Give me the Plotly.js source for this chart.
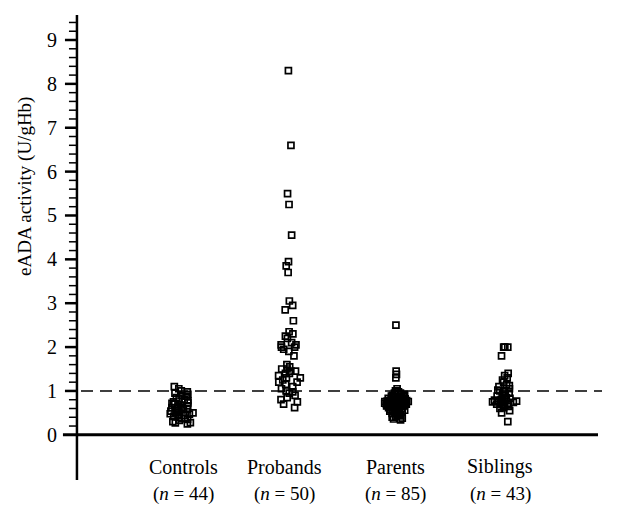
<!DOCTYPE html>
<html>
<head>
<meta charset="utf-8">
<script src="https://cdn.plot.ly/plotly-3.0.1.min.js"></script>
<style>html,body{margin:0;padding:0;background:#fff;}#chart{width:621px;height:506px;}</style>
</head>
<body>
<div id="chart"></div>
<script>
var categories = ["Controls", "Probands", "Parents", "Siblings"];
var groupSizes = ["44", "50", "85", "43"];

var controls = [1.1, 1.05, 1.0, 0.98, 0.95, 0.92, 0.9, 0.88, 0.85, 0.82,
  0.8, 0.78, 0.75, 0.73, 0.72, 0.7, 0.68, 0.66, 0.65, 0.63,
  0.62, 0.6, 0.6, 0.58, 0.57, 0.55, 0.54, 0.52, 0.5, 0.5,
  0.48, 0.47, 0.45, 0.44, 0.42, 0.4, 0.38, 0.37, 0.35, 0.33,
  0.3, 0.28, 0.27, 0.25];

var probands = [8.3, 6.6, 5.5, 5.25, 4.55, 3.95, 3.85, 3.7, 3.05, 2.95,
  2.85, 2.6, 2.35, 2.3, 2.25, 2.2, 2.1, 2.05, 2.05, 2.0,
  2.0, 1.95, 1.9, 1.8, 1.6, 1.55, 1.5, 1.5, 1.45, 1.45,
  1.4, 1.4, 1.35, 1.3, 1.3, 1.25, 1.2, 1.2, 1.15, 1.1,
  1.05, 1.0, 0.98, 0.95, 0.9, 0.85, 0.8, 0.75, 0.7, 0.62];

var parents = [2.5, 1.45, 1.38, 1.3, 1.05, 1.0, 1.0, 0.98, 0.95, 0.95,
  0.92, 0.9, 0.9, 0.88, 0.87, 0.86, 0.85, 0.85, 0.84, 0.83,
  0.82, 0.82, 0.81, 0.8, 0.8, 0.8, 0.79, 0.78, 0.78, 0.77,
  0.77, 0.76, 0.76, 0.75, 0.75, 0.75, 0.74, 0.74, 0.73, 0.73,
  0.72, 0.72, 0.72, 0.71, 0.71, 0.7, 0.7, 0.7, 0.69, 0.69,
  0.68, 0.68, 0.67, 0.67, 0.66, 0.66, 0.65, 0.65, 0.64, 0.64,
  0.63, 0.62, 0.62, 0.61, 0.6, 0.6, 0.59, 0.58, 0.57, 0.56,
  0.55, 0.54, 0.53, 0.52, 0.5, 0.49, 0.48, 0.46, 0.45, 0.43,
  0.42, 0.4, 0.38, 0.36, 0.34];

var siblings = [2.0, 2.0, 2.0, 1.8, 1.4, 1.35, 1.3, 1.25, 1.2, 1.15,
  1.12, 1.1, 1.05, 1.02, 1.0, 0.98, 0.95, 0.93, 0.9, 0.88,
  0.86, 0.85, 0.83, 0.82, 0.8, 0.79, 0.78, 0.77, 0.76, 0.75,
  0.74, 0.73, 0.72, 0.7, 0.69, 0.68, 0.66, 0.65, 0.62, 0.6,
  0.55, 0.5, 0.3];

var cutoff = 1.0;
var yTickLabels = ["0", "1", "2", "3", "4", "5", "6", "7", "8", "9"];
var yTitle = "eADA activity (U/gHb)";

var series = [controls, probands, parents, siblings];
var serif = "Liberation Serif, Times New Roman, serif";

// axis geometry
var xRange = [-1.318, 3.862];
var yRange = [-1.03, 9.57];
var plotLeft = 40, plotRight = 598;
var pxPerUnit = (plotRight - plotLeft) / (xRange[1] - xRange[0]);
var spineX = -0.975;
function xPaper(px) { return (px - plotLeft) / (plotRight - plotLeft); }
function yPaper(v) { return (v - yRange[0]) / (yRange[1] - yRange[0]); }

var traces = series.map(function (vals, i) {
  return {
    type: "box",
    x: vals.map(function () { return i; }),
    y: vals,
    boxpoints: "all",
    jitter: 1,
    pointpos: 0,
    width: 0.24,
    fillcolor: "rgba(0,0,0,0)",
    line: { color: "rgba(0,0,0,0)", width: 0 },
    marker: { symbol: "square-open", size: 6, color: "black", line: { width: 1.7 } },
    showlegend: false,
    hoverinfo: "y"
  };
});

// y axis spine, ticks and the x axis line, drawn as line traces on the axes
var majX = [], majY = [], minX = [], minY = [];
for (var k = 1; k <= 47; k++) {
  var v = k * 0.2;
  if (k % 5 === 0) {
    majX.push(spineX - 12 / pxPerUnit, spineX, null); majY.push(v, v, null);
  } else {
    minX.push(spineX - 8 / pxPerUnit, spineX, null); minY.push(v, v, null);
  }
}
traces.push({ type: "scatter", mode: "lines", x: [spineX, spineX], y: yRange,
  line: { color: "black", width: 2.5 }, showlegend: false, hoverinfo: "skip" });
traces.push({ type: "scatter", mode: "lines", x: majX, y: majY, connectgaps: false,
  line: { color: "black", width: 2.5 }, showlegend: false, hoverinfo: "skip" });
traces.push({ type: "scatter", mode: "lines", x: minX, y: minY, connectgaps: false,
  line: { color: "black", width: 1.5 }, showlegend: false, hoverinfo: "skip" });
traces.push({ type: "scatter", mode: "lines", x: [spineX - 14 / pxPerUnit, xRange[1]], y: [0, 0],
  line: { color: "black", width: 3 }, showlegend: false, hoverinfo: "skip" });

var annotations = [];
var shifts = [2, -5, -2, -5];
categories.forEach(function (c, i) {
  annotations.push({
    x: i, xref: "x", y: 0.028, yref: "paper", xshift: shifts[i],
    text: c, showarrow: false, xanchor: "center", yanchor: "middle",
    font: { family: serif, size: 20, color: "black" }
  });
  annotations.push({
    x: i, xref: "x", y: -0.03, yref: "paper", xshift: shifts[i],
    text: "(<i>n</i> = " + groupSizes[i] + ")", showarrow: false, xanchor: "center", yanchor: "middle",
    font: { family: serif, size: 19, color: "black" }
  });
});
annotations.push({
  x: xPaper(25), xref: "paper", y: 5.65, yref: "y", text: yTitle, textangle: -90,
  showarrow: false, xanchor: "center", yanchor: "middle",
  font: { family: serif, size: 19, color: "black" }
});

var shapes = [{
  type: "line", xref: "paper", x0: xPaper(81), x1: xPaper(602), yref: "paper", y0: yPaper(cutoff), y1: yPaper(cutoff),
  line: { color: "black", width: 1.6, dash: "12px,7px" }
}];

var layout = {
  width: 621, height: 506,
  margin: { l: plotLeft, r: 621 - plotRight, t: 15, b: 26 },
  paper_bgcolor: "white", plot_bgcolor: "white",
  xaxis: {
    range: xRange,
    showline: false, showticklabels: false, ticks: "", showgrid: false, zeroline: false
  },
  yaxis: {
    range: yRange,
    tickmode: "array",
    tickvals: yTickLabels.map(Number),
    ticktext: yTickLabels,
    showline: false,
    ticks: "",
    ticklabelposition: "inside",
    ticklabelstandoff: 4,
    showgrid: false,
    zeroline: false,
    tickfont: { family: serif, size: 20, color: "black" }
  },
  shapes: shapes,
  annotations: annotations
};

Plotly.newPlot("chart", traces, layout, { displayModeBar: false, staticPlot: true });
</script>
</body>
</html>
